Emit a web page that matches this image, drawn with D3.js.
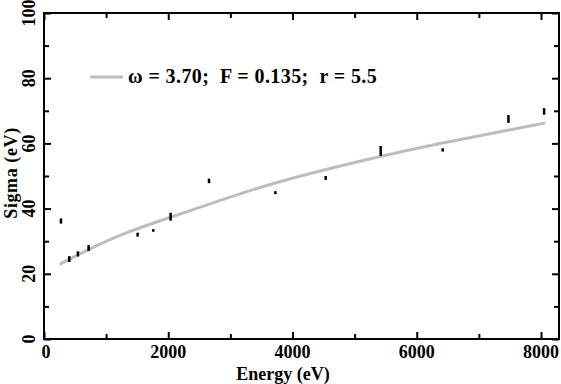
<!DOCTYPE html>
<html><head><meta charset="utf-8">
<script src="https://cdn.jsdelivr.net/npm/d3@7/dist/d3.min.js"></script>
<style>
html,body{margin:0;padding:0;background:#fff;}
svg{display:block;}
text{font-family:"Liberation Serif","Times New Roman",serif;font-weight:bold;fill:#000;}
</style></head>
<body>
<svg id="chart" width="561" height="384"></svg>
<script>
// Data points (Energy eV, Sigma eV, half error)
const energy = [269, 403, 542, 714, 1503, 1755, 2034, 2652, 3720, 4530, 5416, 6414, 7472, 8046];
const sigma  = [36.2, 24.5, 26.1, 27.9, 32.0, 33.3, 37.5, 48.5, 44.9, 49.4, 57.7, 58.0, 67.5, 69.8];
const errHalf = [0.8, 0.9, 0.8, 0.9, 0.6, 0.4, 1.2, 0.7, 0.45, 0.6, 1.5, 0.5, 1.2, 1.0];
// Fit curve
const fitE = [250, 714, 1250, 1868, 2500, 3317, 4200, 5416, 6414, 7300, 8068];
const fitS = [22.9, 27.5, 32.2, 36.3, 40.3, 45.7, 50.5, 56.1, 60.2, 63.4, 66.3];
const xTicks = [0, 2000, 4000, 6000, 8000];
const xMinor = [1000, 3000, 5000, 7000];
const yTicks = [0, 20, 40, 60, 80, 100];
const yMinor = [10, 30, 50, 70, 90];
const legendLabel = "ω = 3.70;  F = 0.135;  r = 5.5";

const svg = d3.select("#chart");
const x = d3.scaleLinear().domain([0, 8290]).range([44, 559]);
const y = d3.scaleLinear().domain([0, 100]).range([339, 13]);

// fit curve
svg.append("path")
  .datum(fitE.map((e,i)=>[e, fitS[i]]))
  .attr("fill","none").attr("stroke","#bdbdbd").attr("stroke-width",3)
  .attr("d", d3.line().x(d=>x(d[0])).y(d=>y(d[1])).curve(d3.curveBasis));

// data bars
svg.append("g").selectAll("rect").data(energy).join("rect")
  .attr("x",(d)=>x(d)-1)
  .attr("width",2.5)
  .attr("y",(d,i)=>y(sigma[i]+errHalf[i]))
  .attr("height",(d,i)=>Math.max(2, y(sigma[i]-errHalf[i])-y(sigma[i]+errHalf[i])))
  .attr("fill","#000");

// axes: ticks inward on all four sides
const major = 7, minor = 5;
svg.append("g").attr("transform",`translate(0,339)`)
  .call(d3.axisBottom(x).tickValues(xTicks).tickSize(-major).tickFormat(""));
svg.append("g").attr("transform",`translate(0,339)`)
  .call(d3.axisBottom(x).tickValues(xMinor).tickSize(-minor).tickFormat(""));
svg.append("g").attr("transform",`translate(0,13)`)
  .call(d3.axisTop(x).tickValues(xTicks).tickSize(-major).tickFormat(""));
svg.append("g").attr("transform",`translate(0,13)`)
  .call(d3.axisTop(x).tickValues(xMinor).tickSize(-minor).tickFormat(""));
svg.append("g").attr("transform",`translate(44,0)`)
  .call(d3.axisLeft(y).tickValues(yTicks).tickSize(-major).tickFormat(""));
svg.append("g").attr("transform",`translate(44,0)`)
  .call(d3.axisLeft(y).tickValues(yMinor).tickSize(-minor).tickFormat(""));
svg.append("g").attr("transform",`translate(559,0)`)
  .call(d3.axisRight(y).tickValues(yTicks).tickSize(-major).tickFormat(""));
svg.append("g").attr("transform",`translate(559,0)`)
  .call(d3.axisRight(y).tickValues(yMinor).tickSize(-minor).tickFormat(""));
svg.selectAll(".domain").remove();
svg.selectAll(".tick line").attr("stroke","#000").attr("stroke-width",2);

// frame
svg.append("rect").attr("x",44).attr("y",13).attr("width",515).attr("height",326)
  .attr("fill","none").attr("stroke","#000").attr("stroke-width",2);

// tick labels
svg.append("g").selectAll("text").data(xTicks).join("text")
  .attr("x",d=>x(d)+(d===0?2:0)).attr("y",358)
  .attr("text-anchor","middle").attr("font-size",18)
  .text(d=>d);
svg.append("g").selectAll("text").data(yTicks).join("text")
  .attr("transform",d=>`translate(35,${y(d)}) rotate(-90)`)
  .attr("text-anchor","middle").attr("font-size",18)
  .text(d=>d);

// axis titles
svg.append("text").attr("x",283).attr("y",380).attr("text-anchor","middle")
  .attr("font-size",18).text("Energy (eV)");
svg.append("text").attr("transform","translate(17,173) rotate(-90)")
  .attr("text-anchor","middle").attr("font-size",18).attr("letter-spacing",0.6).text("Sigma (eV)");

// legend
svg.append("line").attr("x1",90).attr("x2",123).attr("y1",77).attr("y2",77)
  .attr("stroke","#bdbdbd").attr("stroke-width",3);
svg.append("text").attr("x",128).attr("y",83).attr("font-size",20).attr("letter-spacing",0.4)
  .attr("xml:space","preserve").style("white-space","pre").text(legendLabel);
</script>
</body></html>
